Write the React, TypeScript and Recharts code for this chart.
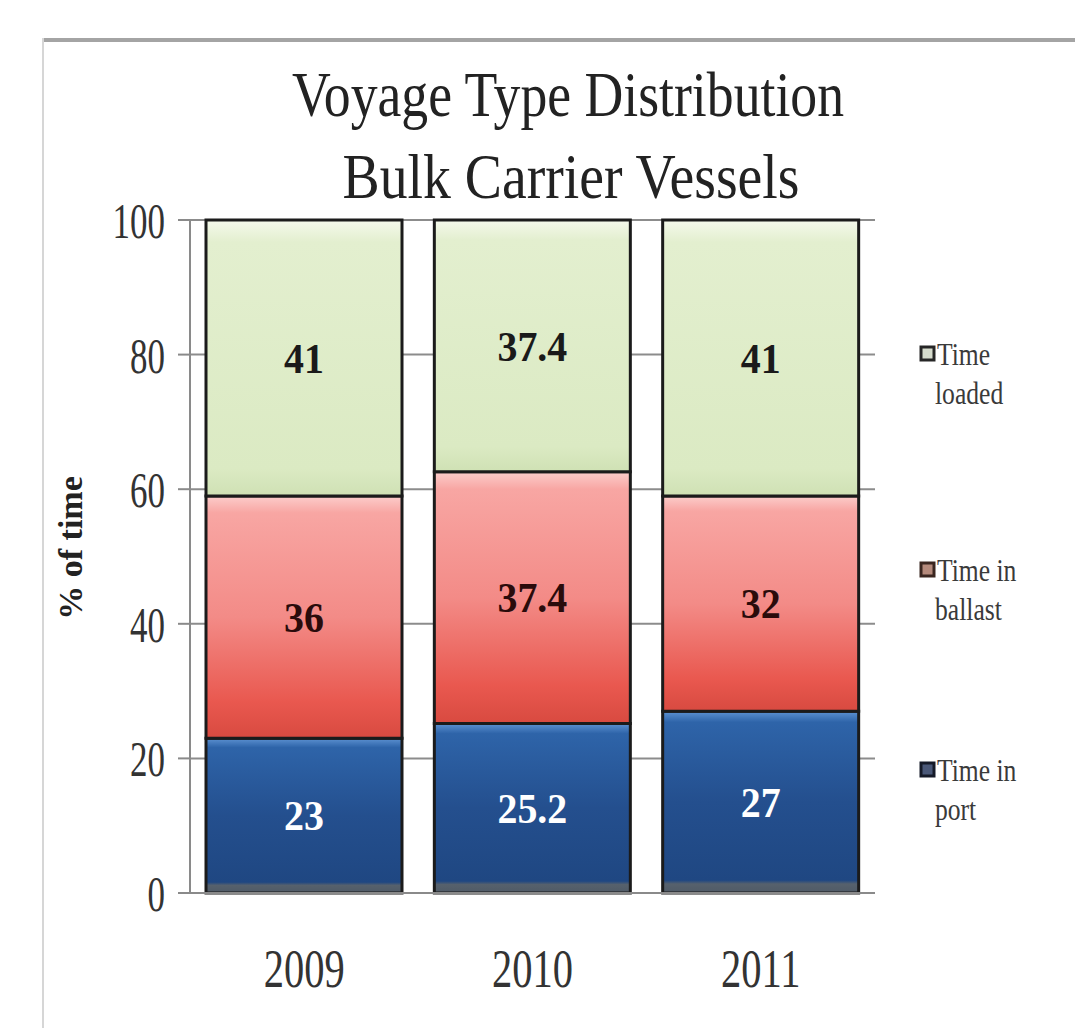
import React from 'react';
import { BarChart, Bar, XAxis, YAxis, CartesianGrid, Legend, LabelList, Customized } from 'recharts';

const years = ['2009', '2010', '2011'];
const timeInPort = [23, 25.2, 27];
const timeInBallast = [36, 37.4, 32];
const timeLoaded = [41, 37.4, 41];
const yTicks = [0, 20, 40, 60, 80, 100];
const titleLines = ['Voyage Type Distribution', 'Bulk Carrier Vessels'];
const yAxisTitle = '% of time';
const seriesNames = { port: 'Time in port', ballast: 'Time in ballast', loaded: 'Time loaded' };
const legendOrder = ['loaded', 'ballast', 'port'];

const data = years.map((y, i) => ({
  year: y,
  port: timeInPort[i],
  ballast: timeInBallast[i],
  loaded: timeLoaded[i],
}));

const FONT = '"Liberation Serif", "Times New Roman", serif';

const YTick = (props: any) => {
  const { x, y, payload } = props;
  return (
    <g transform={`translate(${x},${y}) scale(0.7,1)`}>
      <text x={0} y={0} dy="0.36em" textAnchor="end" fontFamily={FONT} fontSize={50} fill="#333">
        {payload.value}
      </text>
    </g>
  );
};

const XTick = (props: any) => {
  const { x, y, payload } = props;
  return (
    <g transform={`translate(${x},${y + 86}) scale(0.75,1)`}>
      <text x={0} y={0} textAnchor="middle" fontFamily={FONT} fontSize={54} fill="#333">
        {payload.value}
      </text>
    </g>
  );
};

const makeLabel = (color: string) => (props: any) => {
  const { x, y, width, height, value } = props;
  const cx = Number(x) + Number(width) / 2;
  const cy = Number(y) + Number(height) / 2;
  return (
    <g transform={`translate(${cx},${cy}) scale(0.95,1)`}>
      <text x={0} y={0} dy="0.35em" textAnchor="middle" fontFamily={FONT} fontWeight="bold" fontSize={42} fill={color}>
        {value}
      </text>
    </g>
  );
};

const legendSwatch: Record<string, { fill: string; stroke: string }> = {
  loaded: { fill: '#d6dccd', stroke: '#262626' },
  ballast: { fill: '#b58a7c', stroke: '#3a2620' },
  port: { fill: '#4a5878', stroke: '#151a28' },
};

const LegendContent = (props: any) => {
  const items = [...(props.payload || [])].sort(
    (a: any, b: any) => legendOrder.indexOf(a.dataKey) - legendOrder.indexOf(b.dataKey)
  );
  const offsets = [0, 216, 416];
  return (
    <svg width={170} height={520} style={{ overflow: 'visible', display: 'block' }}>
      {items.map((it: any, i: number) => {
        const text = String(it.value);
        const k = text.lastIndexOf(' ');
        const l1 = text.slice(0, k);
        const l2 = text.slice(k + 1);
        const top = offsets[i] ?? i * 200;
        const sw = legendSwatch[it.dataKey] || { fill: '#999', stroke: '#333' };
        return (
          <g key={i}>
            <rect x={9} y={top + 27} width={13} height={13} fill={sw.fill} stroke={sw.stroke} strokeWidth={3} />
            <g transform={`translate(25,${top + 45}) scale(0.8,1)`}>
              <text x={0} y={0} fontFamily={FONT} fontSize={32} fill="#3a3a3a">{l1}</text>
            </g>
            <g transform={`translate(23,${top + 84}) scale(0.8,1)`}>
              <text x={0} y={0} fontFamily={FONT} fontSize={32} fill="#3a3a3a">{l2}</text>
            </g>
          </g>
        );
      })}
    </svg>
  );
};

const Title = () => (
  <g fontFamily={FONT} fill="#222">
    <text x={568} y={116} textAnchor="middle" fontSize={64} textLength={552} lengthAdjust="spacingAndGlyphs">
      {titleLines[0]}
    </text>
    <text x={571} y={198} textAnchor="middle" fontSize={64} textLength={457} lengthAdjust="spacingAndGlyphs">
      {titleLines[1]}
    </text>
  </g>
);

const YTitle = () => (
  <text
    x={82}
    y={548}
    transform="rotate(-90, 82, 548)"
    textAnchor="middle"
    fontFamily={FONT}
    fontWeight="bold"
    fontSize={34}
    fill="#222"
  >
    {yAxisTitle}
  </text>
);

export default function App() {
  return (
    <div style={{ position: 'absolute', left: 0, top: 0, width: 1075, height: 1028, overflow: 'hidden', background: '#fff' }}>
      <div style={{ position: 'absolute', left: 42, top: 38, width: 1033, height: 4, background: '#a4a4a4' }} />
      <div style={{ position: 'absolute', left: 42, top: 38, width: 2, height: 990, background: '#d6d6d6' }} />
      <div style={{ position: 'absolute', left: 0, top: 0 }}>
        <BarChart width={1075} height={1028} data={data} margin={{ top: 220, right: 200, left: 0, bottom: 0 }}>
          <defs>
            <linearGradient id="gLoaded" x1="0" y1="0" x2="0" y2="1">
              <stop offset="0" stopColor="#f5f9ec" />
              <stop offset="0.08" stopColor="#e3efcf" />
              <stop offset="0.9" stopColor="#dbeac3" />
              <stop offset="1" stopColor="#cfe1b4" />
            </linearGradient>
            <linearGradient id="gBallast" x1="0" y1="0" x2="0" y2="1">
              <stop offset="0" stopColor="#fccdcb" />
              <stop offset="0.07" stopColor="#f8a6a3" />
              <stop offset="0.5" stopColor="#f38b87" />
              <stop offset="0.85" stopColor="#e9584f" />
              <stop offset="1" stopColor="#d84a40" />
            </linearGradient>
            <linearGradient id="gPort" x1="0" y1="0" x2="0" y2="1">
              <stop offset="0" stopColor="#5d92d2" />
              <stop offset="0.06" stopColor="#2e64a9" />
              <stop offset="0.5" stopColor="#244f8e" />
              <stop offset="0.93" stopColor="#1f4782" />
              <stop offset="0.95" stopColor="#56616d" />
              <stop offset="1" stopColor="#4f5a66" />
            </linearGradient>
          </defs>
          <CartesianGrid vertical={false} stroke="#8c8c8c" strokeWidth={2} />
          <XAxis
            dataKey="year"
            height={135}
            axisLine={{ stroke: '#8a8a8a', strokeWidth: 2 }}
            tickLine={false}
            tick={<XTick />}
            interval={0}
          />
          <YAxis
            width={190}
            domain={[0, 100]}
            ticks={yTicks}
            interval={0}
            axisLine={{ stroke: '#8a8a8a', strokeWidth: 2 }}
            tickLine={{ stroke: '#8a8a8a', strokeWidth: 2 }}
            tickSize={12}
            tickMargin={13}
            tick={<YTick />}
          />
          <Legend
            layout="vertical"
            align="center"
            verticalAlign="middle"
            wrapperStyle={{ left: 912, top: 320, width: 170 }}
            content={<LegendContent />}
          />
          <Bar dataKey="port" name={seriesNames.port} stackId="a" barSize={196} fill="url(#gPort)" stroke="#1b1b1b" strokeWidth={3} isAnimationActive={false}>
            <LabelList dataKey="port" content={makeLabel('#ffffff')} />
          </Bar>
          <Bar dataKey="ballast" name={seriesNames.ballast} stackId="a" barSize={196} fill="url(#gBallast)" stroke="#1b1b1b" strokeWidth={3} isAnimationActive={false}>
            <LabelList dataKey="ballast" content={makeLabel('#2a0b0b')} />
          </Bar>
          <Bar dataKey="loaded" name={seriesNames.loaded} stackId="a" barSize={196} fill="url(#gLoaded)" stroke="#1b1b1b" strokeWidth={3} isAnimationActive={false}>
            <LabelList dataKey="loaded" content={makeLabel('#1a1a1a')} />
          </Bar>
          <Customized component={Title} />
          <Customized component={YTitle} />
        </BarChart>
      </div>
    </div>
  );
}
